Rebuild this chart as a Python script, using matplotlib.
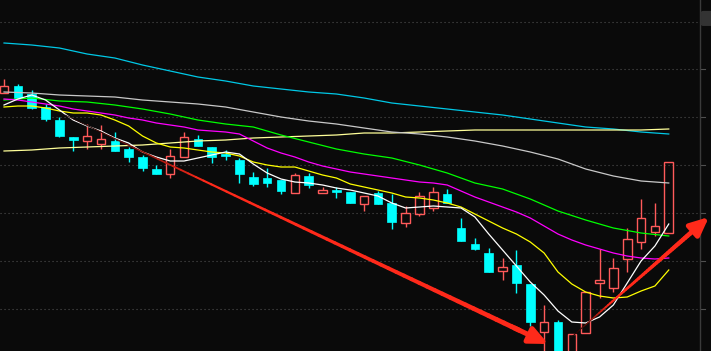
import numpy as np
import matplotlib
matplotlib.use("Agg")
import matplotlib.pyplot as plt
from matplotlib.collections import LineCollection
from matplotlib.patches import Rectangle, FancyBboxPatch

# daily candles, oldest first (price)
opens = [30.7, 31.4, 30.6, 29.3, 28.0, 26.3, 25.9, 25.6, 25.9, 25.1,
         24.3, 23.1, 22.6, 24.3, 26.1, 25.3, 24.6, 24.0, 22.3, 22.2,
         22.0, 20.7, 22.4, 20.7, 21.0, 20.8, 19.6, 20.7, 19.7, 17.7,
         18.6, 19.2, 20.6, 17.2, 15.6, 14.7, 12.9, 13.5, 11.6, 6.8,
         7.8, 4.0, 6.7, 11.7, 11.2, 14.1, 15.8, 16.8, 16.7]
highs = [32.1, 31.6, 31.0, 29.6, 28.3, 26.3, 27.6, 27.5, 26.8, 25.3,
         24.5, 23.5, 25.1, 26.8, 26.5, 25.3, 25.0, 24.2, 22.8, 23.2,
         22.0, 22.7, 22.7, 21.3, 21.3, 20.8, 20.4, 20.9, 20.6, 19.4,
         20.8, 21.3, 21.1, 18.2, 16.2, 15.2, 14.2, 15.0, 11.6, 9.5,
         8.0, 6.6, 10.8, 15.1, 14.2, 17.2, 20.1, 19.7, 23.8]
lows = [30.7, 30.2, 29.1, 27.9, 26.3, 24.9, 25.1, 25.1, 24.9, 23.8,
        22.9, 22.6, 22.2, 24.3, 25.4, 23.7, 24.0, 21.7, 21.4, 21.3,
        20.6, 20.7, 21.2, 20.7, 20.2, 19.7, 18.9, 19.6, 17.1, 17.3,
        18.4, 18.9, 19.7, 15.9, 15.0, 12.8, 12.0, 10.7, 7.4, 4.4,
        4.2, 3.8, 6.7, 10.2, 10.8, 12.8, 15.1, 16.4, 16.7]
closes = [31.4, 30.2, 29.2, 28.1, 26.4, 26.0, 26.4, 26.1, 24.9, 24.3,
          23.2, 22.6, 24.4, 26.3, 25.4, 24.3, 24.4, 22.6, 21.6, 21.7,
          20.9, 22.5, 21.5, 21.0, 20.8, 19.7, 20.4, 19.6, 17.8, 18.7,
          20.4, 20.8, 19.7, 15.9, 15.1, 12.8, 13.3, 11.7, 7.8, 7.8,
          4.2, 6.6, 10.8, 12.0, 13.2, 16.1, 18.2, 17.4, 23.8]

# fast moving averages, one value per candle
ma5 = [29.5, 30.1, 30.5, 30.0, 29.0, 28.0, 27.4, 26.9, 26.2, 25.7,
       24.8, 24.3, 23.9, 23.9, 24.2, 24.5, 24.8, 24.6, 23.6, 22.7,
       22.1, 21.8, 21.7, 21.5, 21.2, 21.0, 20.7, 20.4, 19.7, 19.2,
       19.3, 19.4, 19.3, 19.2, 18.3, 16.6, 15.0, 13.4, 11.8, 10.5,
       8.9, 7.8, 7.7, 8.3, 9.5, 11.7, 13.9, 15.4, 17.6]
ma10 = [29.3, 29.4, 29.4, 29.2, 28.9, 28.7, 28.7, 28.5, 28.0, 27.4,
        26.4, 25.7, 25.3, 25.2, 25.0, 24.8, 24.7, 24.4, 23.8, 23.5,
        23.3, 23.3, 22.9, 22.5, 22.2, 21.6, 21.3, 21.0, 20.7, 20.3,
        20.2, 20.0, 19.7, 19.3, 18.6, 17.9, 17.2, 16.6, 15.8, 14.7,
        12.8, 11.6, 10.8, 10.4, 10.2, 10.3, 10.9, 11.4, 13.0]
ma20 = [30.1, 30.0, 29.8, 29.6, 29.4, 29.1, 28.9, 28.7, 28.5, 28.2,
        28.0, 27.7, 27.5, 27.3, 27.0, 26.9, 26.8, 26.6, 25.9, 25.2,
        24.7, 24.3, 23.8, 23.4, 23.1, 22.8, 22.6, 22.4, 22.2, 22.0,
        21.8, 21.7, 21.5, 20.9, 20.3, 19.8, 19.3, 18.8, 18.2, 17.4,
        16.6, 16.0, 15.5, 15.1, 14.7, 14.4, 14.2, 14.1, 14.2]

# slow moving averages, read every second candle
slow_idx = list(range(0, 49, 2))
ma30 = [30.0, 30.2, 29.9, 29.8, 29.5, 29.1, 28.6, 28.0, 27.6, 27.3,
        26.5, 25.8, 25.1, 24.6, 24.2, 23.5, 22.7, 21.7, 21.1, 20.1,
        18.9, 18.0, 17.2, 16.7, 16.4]
ma60 = [30.8, 30.7, 30.5, 30.4, 30.3, 30.0, 29.8, 29.6, 29.3, 28.8,
        28.3, 27.9, 27.6, 27.2, 26.8, 26.6, 26.3, 25.9, 25.4, 24.8,
        24.1, 23.1, 22.4, 21.9, 21.7]
ma120 = [24.9, 25.0, 25.2, 25.3, 25.4, 25.5, 25.7, 25.9, 26.0, 26.2,
         26.3, 26.4, 26.5, 26.7, 26.7, 26.8, 26.9, 27.0, 27.0, 27.0,
         27.0, 27.0, 27.0, 27.0, 27.1]
ma250 = [35.7, 35.5, 35.2, 34.6, 34.2, 33.5, 32.9, 32.3, 31.9, 31.4,
         31.1, 30.8, 30.6, 30.2, 29.7, 29.4, 29.1, 28.8, 28.5, 28.1,
         27.7, 27.3, 27.1, 26.8, 26.6]

grid_prices = [37.8, 33.1, 28.3, 23.5, 18.7, 13.9, 9.1]

# hand-drawn trend arrows: (candle, price) tail -> tip
arrow_down = ((4.4, 28.5), (39.3, 5.6))
arrow_up = ((40.9, 6.2), (50.9, 18.3))

bg = "#0a0a0a"
up_col = "#ff5a5a"
down_col = "#00ffff"
arrow_col = "#ff2a1a"

fig = plt.figure(figsize=(7.11, 3.51), dpi=100, facecolor=bg)
ax = fig.add_axes([0, 0, 1, 1], facecolor=bg)
ax.set_xlim(-0.29, 51.05)
ax.set_ylim(4.9, 40.0)
ax.axis("off")

# dotted price grid
for g in grid_prices:
    ax.axhline(g, xmin=0, xmax=0.98, color="#505050", lw=0.8,
               ls=(0, (1, 2.6)), zorder=1)
    ax.axhline(g, xmin=0.985, xmax=0.992, color="#505050", lw=0.8, zorder=1)
ax.axvline(50.25, color="#3a3a3a", lw=1.0, zorder=1)
ax.add_patch(FancyBboxPatch((0.988, 0.93), 0.02, 0.035,
                            boxstyle="round,pad=0.002,rounding_size=0.004",
                            transform=ax.transAxes, color="#333333", zorder=1))

# candles
w = 0.62
for i in range(len(opens)):
    o, h, l, c = opens[i], highs[i], lows[i], closes[i]
    if c >= o:
        ax.add_patch(Rectangle((i - w / 2, o), w, c - o, fill=False,
                               edgecolor=up_col, lw=1.0, zorder=2))
        ax.vlines(i, c, h, color=up_col, lw=1.0, zorder=2)
        ax.vlines(i, l, o, color=up_col, lw=1.0, zorder=2)
    else:
        ax.vlines(i, l, h, color=down_col, lw=1.0, zorder=2)
        ax.add_patch(Rectangle((i - w / 2, c), w, o - c, facecolor=down_col,
                               edgecolor=down_col, lw=0.5, zorder=2))

# moving averages
days = list(range(len(ma5)))
ax.plot(slow_idx, ma250, color="#00c8e6", lw=0.9, zorder=3)
ax.plot(slow_idx, ma120, color="#ffff99", lw=0.9, zorder=3)
ax.plot(slow_idx, ma60, color="#c8c8c8", lw=0.9, zorder=3)
ax.plot(slow_idx, ma30, color="#00ff00", lw=0.9, zorder=3)
ax.plot(days, ma20, color="#ff00ff", lw=0.9, zorder=3)
ax.plot(days, ma10, color="#ffff00", lw=0.9, zorder=3)
ax.plot(days, ma5, color="#ffffff", lw=0.9, zorder=3)


def draw_arrow(tail, tip, max_w):
    # tapered shaft that fades in from dark red, then a filled head
    t = np.linspace(0, 0.94, 60)
    xs = tail[0] + (tip[0] - tail[0]) * t
    ys = tail[1] + (tip[1] - tail[1]) * t
    segs = [[(xs[k], ys[k]), (xs[k + 1], ys[k + 1])] for k in range(len(t) - 1)]
    frac = t[:-1] / 0.94
    fade = np.clip(frac / 0.3, 0.15, 1.0)
    cols = [(1.0 * f, 0.16 * f, 0.1 * f) for f in fade]
    widths = 0.6 + (max_w - 0.6) * frac
    ax.add_collection(LineCollection(segs, colors=cols, linewidths=widths,
                                     capstyle="round", zorder=5))
    base = (tail[0] + (tip[0] - tail[0]) * 0.93, tail[1] + (tip[1] - tail[1]) * 0.93)
    ax.annotate("", xy=tip, xytext=base,
                arrowprops=dict(arrowstyle="-|>,head_length=1.1,head_width=0.5",
                                color=arrow_col, lw=max_w, mutation_scale=10,
                                shrinkA=0, shrinkB=0), zorder=6)


draw_arrow(arrow_down[0], arrow_down[1], 3.6)
draw_arrow(arrow_up[0], arrow_up[1], 3.6)

fig.savefig("out.png", dpi=100, facecolor=bg)
